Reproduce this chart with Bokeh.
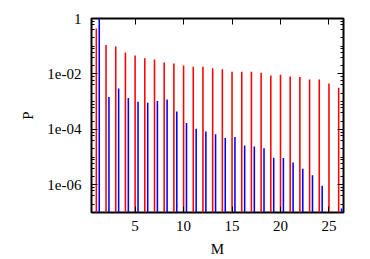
import math
from bokeh.plotting import figure
from bokeh.models import (FixedTicker, LinearAxis, LogAxis, Range1d, ColumnDataSource,
                          CustomLabelingPolicy)
from bokeh.transform import dodge
from bokeh.embed import file_html
from bokeh.resources import INLINE

# ---- data ----
M = list(range(1, 27))
p_red = [0.44, 0.11, 0.097, 0.059, 0.046, 0.037, 0.033, 0.026, 0.024, 0.020,
         0.018, 0.018, 0.016, 0.0148, 0.012, 0.012, 0.012, 0.011, 0.0087, 0.0093,
         0.0080, 0.0078, 0.0063, 0.0063, 0.0045, 0.0032]
p_blue = [1.0, 0.00148, 0.0030, 0.00135, 0.0010, 0.00092, 0.00105, 0.0012, 0.00044, 0.00017,
          0.000105, 8.3e-5, 6.6e-5, 4.9e-5, 5.3e-5, 2.6e-5, 2.4e-5, 2.1e-5, 9.5e-6, 9.3e-6,
          6.4e-6, 3.8e-6, 2.2e-6, 9.2e-7, None, 1.4e-7]
x_ticks = [5, 10, 15, 20, 25]
y_major = [1.0, 1e-2, 1e-4, 1e-6]
y_labels = ["1", "1e-02", "1e-04", "1e-06"]
decades = [0, -1, -2, -3, -4, -5, -6, -7]
minor_mult = [1, 2, 4, 6, 8]

red_src = ColumnDataSource(dict(M=M, P=p_red))
bm = [m for m, v in zip(M, p_blue) if v is not None]
bv = [v for v in p_blue if v is not None]
blue_src = ColumnDataSource(dict(M=bm, P=bv))

FONT = "Liberation Serif"

p = figure(width=370, height=259, output_backend="svg", toolbar_location=None,
           y_axis_type="log", x_range=Range1d(0.5, 26.5), y_range=Range1d(1e-7, 1.0),
           min_border_left=91, min_border_right=27, min_border_top=18, min_border_bottom=47,
           x_axis_label="M", y_axis_label="P")
p.grid.visible = False
p.outline_line_color = "black"
p.outline_line_width = 2
p.background_fill_color = "white"
p.border_fill_color = "white"

p.vbar(x="M", top="P", bottom=1e-9, width=0.16, source=red_src,
       fill_color="#ff0000", line_color=None)
p.vbar(x=dodge("M", 0.3, range=p.x_range), top="P", bottom=1e-9, width=0.16, source=blue_src,
       fill_color="#0000ff", line_color=None)

minor = []
for d in decades:
    for m in minor_mult:
        v = m * 10.0 ** d
        if v <= 1.0 and not any(abs(v - t) < 1e-15 for t in y_major):
            minor.append(v)

y_ticker = FixedTicker(ticks=y_major, minor_ticks=minor)
x_ticker = FixedTicker(ticks=x_ticks, minor_ticks=[])

def style(ax):
    ax.axis_line_color = None
    ax.major_tick_in = 6
    ax.major_tick_out = 0
    ax.minor_tick_in = 3
    ax.minor_tick_out = 0
    ax.major_tick_line_color = "black"
    ax.minor_tick_line_color = "black"
    ax.major_label_text_font = FONT
    ax.major_label_text_font_size = "15px"
    ax.major_label_text_color = "black"
    ax.axis_label_text_font = FONT
    ax.axis_label_text_font_size = "15px"
    ax.axis_label_text_font_style = "normal"
    ax.axis_label_text_color = "black"

xa = p.xaxis[0]
xa.ticker = x_ticker
style(xa)
xa.major_label_standoff = 8
xa.axis_label_standoff = 7

ya = p.yaxis[0]
ya.ticker = y_ticker
style(ya)
ya.major_label_overrides = {t: s for t, s in zip(y_major, y_labels)}
ya.major_label_standoff = 10
ya.axis_label_standoff = 8

top_ax = LinearAxis(ticker=x_ticker, major_label_policy=CustomLabelingPolicy(code=""))
style(top_ax)
top_ax.major_label_text_font_size = "1px"
top_ax.major_label_standoff = 0
p.add_layout(top_ax, "above")

right_ax = LogAxis(ticker=y_ticker, major_label_policy=CustomLabelingPolicy(code=""))
style(right_ax)
right_ax.major_label_text_font_size = "1px"
right_ax.major_label_standoff = 0
p.add_layout(right_ax, "right")

open("out.html", "w").write(file_html(p, INLINE))
